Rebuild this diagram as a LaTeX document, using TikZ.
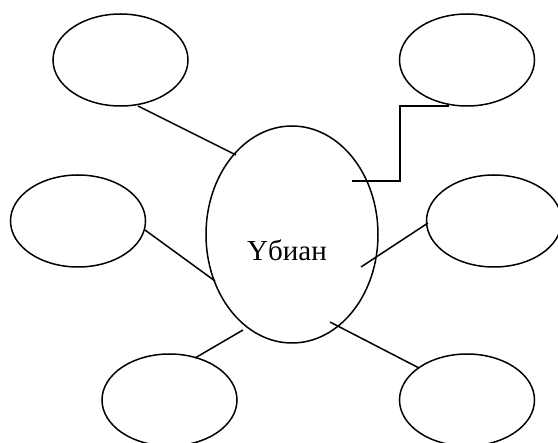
\documentclass[tikz,border=0pt]{standalone}
\usepackage{fontspec}
\setmainfont{Liberation Serif}
\usetikzlibrary{shapes.geometric}
\begin{document}
\begin{tikzpicture}[x=1pt,y=-1pt,
  bubble/.style={draw=black,line width=1.5pt,ellipse,minimum width=135pt,minimum height=92pt,inner sep=0pt},
  hub/.style={draw=black,line width=1.5pt,ellipse,minimum width=172pt,minimum height=217pt,inner sep=0pt},
  link/.style={draw=black,line width=1.5pt}]
\useasboundingbox (0,0) rectangle (558,443);
\node[bubble] (tl) at (120.5,60) {};
\node[bubble] (tr) at (467,60) {};
\node[bubble] (ml) at (78,221) {};
\node[bubble] (mr) at (494,221) {};
\node[bubble] (bl) at (169.5,400) {};
\node[bubble] (br) at (467,400) {};
\node[hub] (c) at (292,234.5) {};
\node[anchor=base,font=\fontsize{29}{34}\selectfont,inner sep=0pt] (ct) at (287,261) {Үбиан};
% connector end points
\coordinate (a1) at (138,106);  \coordinate (a2) at (236,155);
\coordinate (b1) at (145,230);  \coordinate (b2) at (215,281);
\coordinate (d1) at (195,358);  \coordinate (d2) at (243,330);
\coordinate (e1) at (449,106);  \coordinate (e2) at (352,181);
\coordinate (f1) at (428,223);  \coordinate (f2) at (361,267);
\coordinate (g1) at (419,368);  \coordinate (g2) at (330,322);
\draw[link] (a1) -- (a2);
\draw[link] (b1) -- (b2);
\draw[link] (d1) -- (d2);
\draw[link] (e1) -- (400,106) -- (400,181) -- (e2);
\draw[link] (f1) -- (f2);
\draw[link] (g1) -- (g2);
\end{tikzpicture}
\end{document}
